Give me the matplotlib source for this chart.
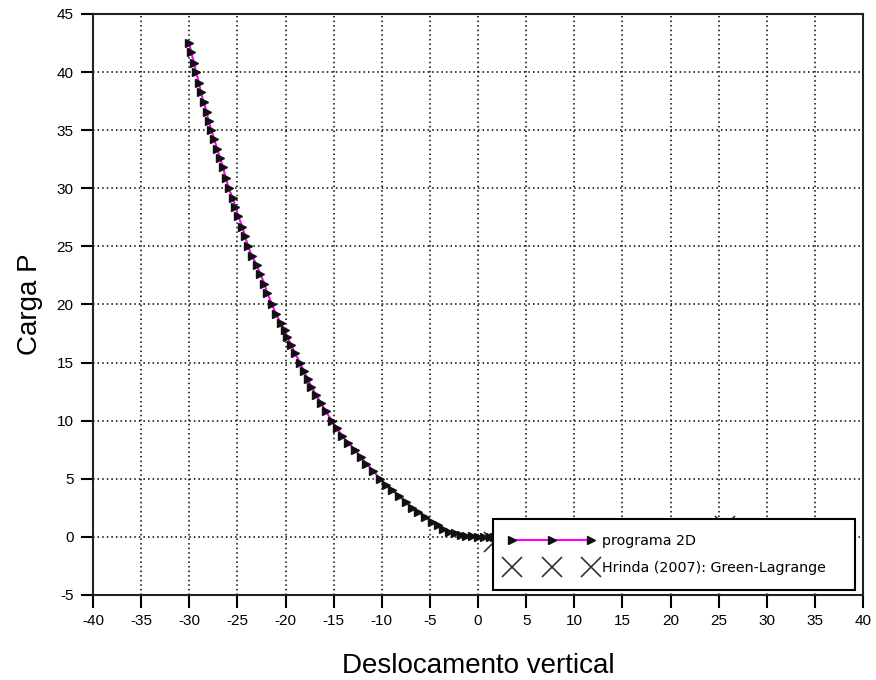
import matplotlib
matplotlib.use('Agg')
import matplotlib.pyplot as plt

# programa 2D: carga P x deslocamento vertical
desloc = [-30.0, -29.8, -29.5, -29.3, -29.0, -28.8, -28.5, -28.2, -28.0, -27.7,
          -27.4, -27.1, -26.8, -26.5, -26.2, -25.9, -25.5, -25.2, -24.9, -24.5,
          -24.2, -23.9, -23.5, -23.0, -22.6, -22.2, -21.9, -21.4, -21.0, -20.5,
          -20.1, -19.8, -19.4, -19.0, -18.5, -18.1, -17.7, -17.3, -16.8, -16.3,
          -15.8, -15.2, -14.7, -14.1, -13.5, -12.8, -12.2, -11.6, -10.9, -10.2,
          -9.6, -8.9, -8.2, -7.5, -6.9, -6.2, -5.5, -4.8, -4.2, -3.6,
          -3.0, -2.4, -1.8, -1.2, -0.6, 0.0, 0.6, 1.2, 1.7]
carga = [42.5, 41.7, 40.8, 40.0, 39.1, 38.3, 37.4, 36.6, 35.8, 35.0,
         34.2, 33.4, 32.6, 31.8, 30.9, 30.0, 29.2, 28.4, 27.6, 26.7,
         25.9, 25.0, 24.2, 23.4, 22.6, 21.8, 21.0, 20.0, 19.2, 18.4,
         17.8, 17.2, 16.5, 15.8, 15.0, 14.3, 13.6, 12.9, 12.2, 11.5,
         10.8, 10.0, 9.4, 8.7, 8.1, 7.5, 6.9, 6.3, 5.7, 5.0,
         4.5, 4.0, 3.5, 3.0, 2.5, 2.1, 1.7, 1.3, 1.0, 0.7,
         0.45, 0.3, 0.18, 0.1, 0.05, 0.02, 0.0, -0.02, -0.03]

# Hrinda (2007): Green-Lagrange (so os pontos visiveis)
hrinda_x = [1.7, 25.7]
hrinda_y = [-0.4, 0.9]

xticks = list(range(-40, 41, 5))
yticks = list(range(-5, 46, 5))

plt.rcParams['font.family'] = ['Liberation Sans', 'DejaVu Sans']
plt.rcParams['axes.unicode_minus'] = False

fig = plt.figure(figsize=(8.76, 6.80), dpi=100)
ax = fig.add_axes([93/876, 1 - 595/680, 770/876, 581/680])

ax.plot(desloc, carga, color='#ff00ff', linewidth=1.5, marker='>',
        markersize=5.5, markerfacecolor='#111111', markeredgecolor='#111111',
        label='programa 2D', zorder=3)
ax.plot(hrinda_x, hrinda_y, linestyle='none', marker='x', markersize=14,
        markeredgewidth=1.2, color='#333333',
        label='Hrinda (2007): Green-Lagrange', zorder=2)

ax.set_xlim(-40, 40)
ax.set_ylim(-5, 45)
ax.set_xticks(xticks)
ax.set_yticks(yticks)
ax.tick_params(labelsize=11, length=9, width=1.5, direction='out', pad=5)
ax.grid(True, color='black', linestyle=(0, (1, 2)), linewidth=1.1)
for sp in ax.spines.values():
    sp.set_linewidth(1.5)
    sp.set_color('#222222')

ax.set_xlabel('Deslocamento vertical', fontsize=20, labelpad=18)
ax.set_ylabel('Carga P', fontsize=20, labelpad=10)

leg = ax.legend(loc='lower left', bbox_to_anchor=(400/770, 5/581, 362/770, 0.12),
                mode='expand', fancybox=False, framealpha=1, edgecolor='black',
                prop={'family': 'DejaVu Sans', 'size': 10.3}, handlelength=6.1,
                handletextpad=0.5, borderpad=1.05, labelspacing=0.9, numpoints=3,
                borderaxespad=0)
leg.get_frame().set_linewidth(1.5)
leg.set_zorder(5)

fig.savefig('out.png', dpi=100)
